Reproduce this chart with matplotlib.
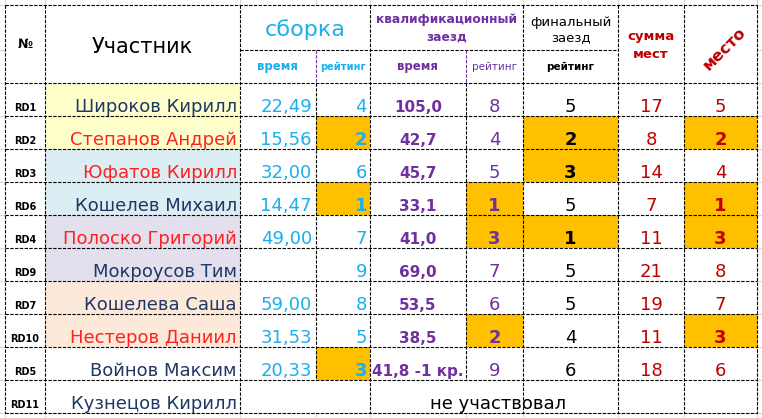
import matplotlib
matplotlib.use("Agg")
from matplotlib import pyplot as plt
from matplotlib.patches import Rectangle

plt.rcParams['font.family'] = ['DejaVu Sans']

# table data
ids = ['RD1', 'RD2', 'RD3', 'RD6', 'RD4', 'RD9', 'RD7', 'RD10', 'RD5', 'RD11']
names = ['Широков Кирилл', 'Степанов Андрей', 'Юфатов Кирилл', 'Кошелев Михаил',
         'Полоско Григорий', 'Мокроусов Тим', 'Кошелева Саша', 'Нестеров Даниил',
         'Войнов Максим', 'Кузнецов Кирилл']
name_red = [False, True, True, False, True, False, False, True, False, False]
name_bg = ['#FFFFCC', '#FFFFCC', '#DAEEF3', '#DAEEF3', '#E4DFEC', '#E4DFEC',
           '#FDE9D9', '#FDE9D9', 'white', 'white']
build_time = ['22,49', '15,56', '32,00', '14,47', '49,00', '', '59,00', '31,53', '20,33']
build_rank = [4, 2, 6, 1, 7, 9, 8, 5, 3]
qual_time = ['105,0', '42,7', '45,7', '33,1', '41,0', '69,0', '53,5', '38,5', '41,8 -1 кр.']
qual_rank = [8, 4, 5, 1, 3, 7, 6, 2, 9]
final_rank = [5, 2, 3, 5, 1, 5, 5, 4, 6]
sum_places = [17, 8, 14, 7, 11, 21, 19, 11, 18]
place = [5, 2, 4, 1, 3, 8, 7, 3, 6]
absent_text = 'не участвовал'

# colours
BLUE = '#1AAFEF'
PURPLE = '#7030A0'
DRED = '#C00000'
NAVY = '#1F3864'
RED = '#FF2020'
GOLD = '#FFC000'

# layout (pixels)
cx = [5, 45, 240, 316, 370, 466, 523, 618, 684, 757]
head_top, head_mid, head_bot = 5, 50, 83
row_h = 33
ry = [head_bot + row_h * i for i in range(len(ids) + 1)]

fig = plt.figure(figsize=(7.62, 4.18), dpi=100)
ax = fig.add_axes([0, 0, 1, 1])
ax.set_xlim(0, 762)
ax.set_ylim(418, 0)
ax.axis('off')

# excel grid behind
for x in cx:
    ax.axvline(x, color='#D9D9D9', lw=0.8, zorder=0)
for y in [head_top, head_mid] + ry:
    ax.axhline(y, color='#D9D9D9', lw=0.8, zorder=0)
ax.add_patch(Rectangle((cx[0], head_top), cx[-1] - cx[0], ry[-1] - head_top,
                       facecolor='white', edgecolor='none', zorder=1))

dash = (0, (3, 1.3))


def hline(y, x0, x1, c='black'):
    ax.plot([x0, x1], [y, y], color=c, lw=0.8, ls=dash, zorder=5)


def vline(x, y0, y1, c='black'):
    ax.plot([x, x], [y0, y1], color=c, lw=0.8, ls=dash, zorder=5)


def fill(c0, c1, y0, y1, color):
    ax.add_patch(Rectangle((cx[c0], y0), cx[c1] - cx[c0], y1 - y0,
                           facecolor=color, edgecolor='none', zorder=2))


# header
ax.text((cx[0] + cx[1]) / 2, 44, '№', ha='center', va='center', fontsize=9,
        fontweight='bold', zorder=6)
ax.text((cx[1] + cx[2]) / 2, 53, 'Участник', ha='center', va='baseline',
        fontsize=15, zorder=6)
ax.text((cx[2] + cx[4]) / 2, 36, 'сборка', ha='center', va='baseline',
        fontsize=16, color=BLUE, zorder=6)
ax.text((cx[2] + cx[3]) / 2, 70, 'время', ha='center', va='baseline',
        fontsize=8.5, fontweight='bold', color=BLUE, zorder=6)
ax.text((cx[3] + cx[4]) / 2, 70, 'рейтинг', ha='center', va='baseline',
        fontsize=7, fontweight='bold', color=BLUE, zorder=6)
ax.text((cx[4] + cx[6]) / 2, 23, 'квалификационный', ha='center', va='baseline',
        fontsize=8.8, fontweight='bold', color=PURPLE, zorder=6)
ax.text((cx[4] + cx[6]) / 2, 41, 'заезд', ha='center', va='baseline',
        fontsize=8.8, fontweight='bold', color=PURPLE, zorder=6)
ax.text((cx[4] + cx[5]) / 2, 70, 'время', ha='center', va='baseline',
        fontsize=8.5, fontweight='bold', color=PURPLE, zorder=6)
ax.text((cx[5] + cx[6]) / 2, 70, 'рейтинг', ha='center', va='baseline',
        fontsize=7.5, color=PURPLE, zorder=6)
ax.text((cx[6] + cx[7]) / 2, 26, 'финальный', ha='center', va='baseline',
        fontsize=9.5, zorder=6)
ax.text((cx[6] + cx[7]) / 2, 41, 'заезд', ha='center', va='baseline',
        fontsize=9.5, zorder=6)
ax.text((cx[6] + cx[7]) / 2, 70, 'рейтинг', ha='center', va='baseline',
        fontsize=7.5, fontweight='bold', zorder=6)
ax.text((cx[7] + cx[8]) / 2, 40, 'сумма', ha='center', va='baseline',
        fontsize=9.5, fontweight='bold', color=DRED, zorder=6)
ax.text((cx[7] + cx[8]) / 2, 58, 'мест', ha='center', va='baseline',
        fontsize=9.5, fontweight='bold', color=DRED, zorder=6)
ax.text(724, 49, 'место', ha='center', va='center', rotation=45,
        rotation_mode='anchor', fontsize=11.5, fontweight='bold', color=DRED, zorder=6)

# rows
for i in range(len(ids)):
    y0, y1 = ry[i], ry[i + 1]
    base = y1 - 4
    fill(1, 2, y0, y1, name_bg[i])
    ax.text((cx[0] + cx[1]) / 2, y1 - 5, ids[i], ha='center', va='baseline',
            fontsize=7, fontweight='bold', zorder=6)
    ax.text(cx[2] - 3, base, names[i], ha='right', va='baseline', fontsize=13,
            color=RED if name_red[i] else NAVY, zorder=6)
    if i >= len(build_rank):
        ax.text((cx[2] + cx[9]) / 2, base, absent_text, ha='center', va='baseline',
                fontsize=13, zorder=6)
        continue
    ax.text(cx[3] - 4, base, build_time[i], ha='right', va='baseline',
            fontsize=13, color=BLUE, zorder=6)
    ranks = [(3, build_rank[i], BLUE, 'right'), (5, qual_rank[i], PURPLE, 'center'),
             (6, final_rank[i], 'black', 'center'), (8, place[i], DRED, 'center')]
    for col, v, c, ha in ranks:
        top = v <= 3
        if top:
            fill(col, col + 1, y0, y1, GOLD)
        x = cx[col + 1] - 3 if ha == 'right' else (cx[col] + cx[col + 1]) / 2
        ax.text(x, base, str(v), ha=ha, va='baseline', fontsize=13,
                fontweight='bold' if top else 'normal', color=c, zorder=6)
    ax.text((cx[4] + cx[5]) / 2, base, qual_time[i], ha='center', va='baseline',
            fontsize=11, fontweight='bold', color=PURPLE, zorder=6)
    ax.text((cx[7] + cx[8]) / 2, base, str(sum_places[i]), ha='center',
            va='baseline', fontsize=13, color=DRED, zorder=6)

# borders
hline(head_top, cx[0], cx[-1])
hline(head_mid, cx[2], cx[7])
for y in ry:
    hline(y, cx[0], cx[-1])
for k in [0, 1, 2, 4, 6, 7, 8, 9]:
    vline(cx[k], head_top, ry[-1])
for k in [3, 5]:
    vline(cx[k], head_mid, head_bot, PURPLE)
for k in [3, 5]:
    vline(cx[k], head_bot, ry[-2])

fig.savefig('out.png', dpi=100)
